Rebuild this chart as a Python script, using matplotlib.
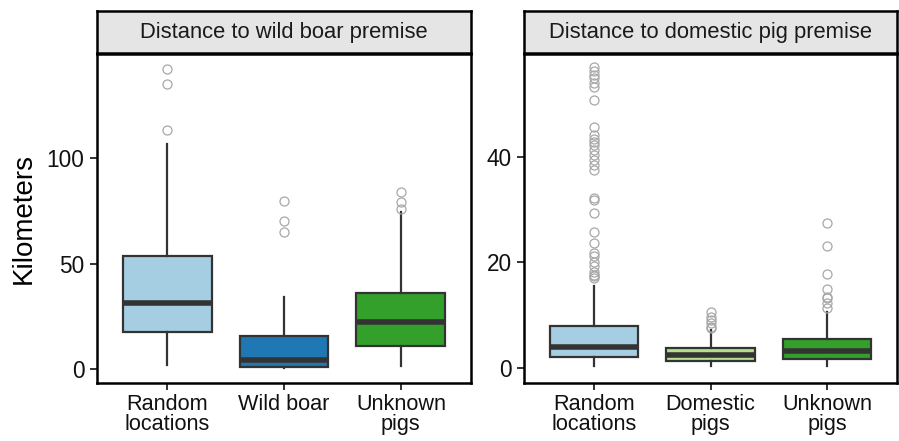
import matplotlib
matplotlib.use("Agg")
import matplotlib.pyplot as plt

plt.rcParams['font.family'] = ['Liberation Sans', 'DejaVu Sans']

# ---- data (km) ----
wild_titles = ["Random\nlocations", "Wild boar", "Unknown\npigs"]
wild_colors = ["#A6CEE3", "#1F78B4", "#33A02C"]
wild_q1 = [17.6, 0.8, 10.8]
wild_med = [31.4, 4.5, 22.2]
wild_q3 = [53.7, 15.6, 36.2]
wild_lo = [2.1, 0.3, 1.3]
wild_hi = [106.8, 34.1, 74.3]
wild_fliers = [
    [142.2, 135.4, 113.2],
    [79.7, 70.3, 65.1],
    [83.8, 79.0, 75.9],
]

dom_titles = ["Random\nlocations", "Domestic\npigs", "Unknown\npigs"]
dom_colors = ["#A6CEE3", "#B2DF8A", "#33A02C"]
dom_q1 = [2.1, 1.3, 1.65]
dom_med = [4.0, 2.5, 3.2]
dom_q3 = [8.0, 3.7, 5.4]
dom_lo = [0.3, 0.3, 0.3]
dom_hi = [15.5, 7.2, 10.5]
dom_fliers = [
    [57.0, 56.2, 55.5, 54.9, 54.0, 53.3, 50.8,
     45.7, 44.2, 43.3, 42.9, 42.3, 41.3, 40.3, 39.4, 38.5, 37.5,
     32.1, 31.8, 29.4, 25.8, 23.6, 21.7, 21.1, 20.1, 19.2,
     18.2, 17.6, 17.3, 17.0],
    [10.6, 9.7, 9.1, 8.4, 7.8, 7.5],
    [27.4, 23.1, 17.8, 14.9, 13.5, 13.2, 12.2, 11.4],
]


def draw_panel(fig, rect, title, labels, colors, q1, med, q3, lo, hi, fliers,
               ylim, yticks, ylabel=None):
    ax = fig.add_axes(rect)
    stats = []
    for i in range(len(labels)):
        stats.append(dict(q1=q1[i], med=med[i], q3=q3[i], whislo=lo[i],
                          whishi=hi[i], fliers=fliers[i], label=labels[i]))
    bp = ax.bxp(stats, positions=[1, 2, 3], widths=0.76, patch_artist=True,
                showcaps=False,
                boxprops=dict(edgecolor="#333333", linewidth=1.6),
                medianprops=dict(color="#333333", linewidth=4.0,
                                 solid_capstyle="butt"),
                whiskerprops=dict(color="#333333", linewidth=1.6),
                flierprops=dict(marker="o", markerfacecolor="none",
                                markeredgecolor="#A8A8A8", markersize=6.5,
                                markeredgewidth=0.9, linestyle="none"))
    for patch, c in zip(bp["boxes"], colors):
        patch.set_facecolor(c)
    ax.set_xlim(0.4, 3.6)
    ax.set_ylim(*ylim)
    ax.set_yticks(yticks)
    ax.tick_params(axis="both", labelsize=16.3, length=5, width=1.4,
                   color="#333333", labelcolor="#111111")
    ax.tick_params(axis="x", labelsize=15.6, pad=3)
    ax.tick_params(axis="y", pad=4)
    for lab in ax.get_xticklabels():
        lab.set_linespacing(0.95)
    for s in ax.spines.values():
        s.set_linewidth(1.8)
        s.set_color("black")
    if ylabel:
        ax.set_ylabel(ylabel, fontsize=20, labelpad=7)

    # facet strip on top
    sx, sy, sw, sh = rect[0], rect[1] + rect[3] + 0.002, rect[2], 42 / 441
    strip = fig.add_axes([sx, sy, sw, sh])
    strip.set_facecolor("#E5E5E5")
    strip.set_xticks([])
    strip.set_yticks([])
    for s in strip.spines.values():
        s.set_linewidth(1.8)
        s.set_color("black")
    strip.text(0.5, 0.5, title, ha="center", va="center", fontsize=15.8,
               color="#1A1A1A", transform=strip.transAxes)
    return ax


fig = plt.figure(figsize=(8.99, 4.41), dpi=100)

W, H = 899, 441
bottom = (H - 383) / H
height = (383 - 54) / H

draw_panel(fig, [97 / W, bottom, 374 / W, height], "Distance to wild boar premise",
           wild_titles, wild_colors, wild_q1, wild_med, wild_q3, wild_lo, wild_hi,
           wild_fliers, (-6.6, 149.4), [0, 50, 100], ylabel="Kilometers")

draw_panel(fig, [524 / W, bottom, 373 / W, height], "Distance to domestic pig premise",
           dom_titles, dom_colors, dom_q1, dom_med, dom_q3, dom_lo, dom_hi,
           dom_fliers, (-2.9, 59.5), [0, 20, 40])

fig.savefig("out.png", dpi=100)
